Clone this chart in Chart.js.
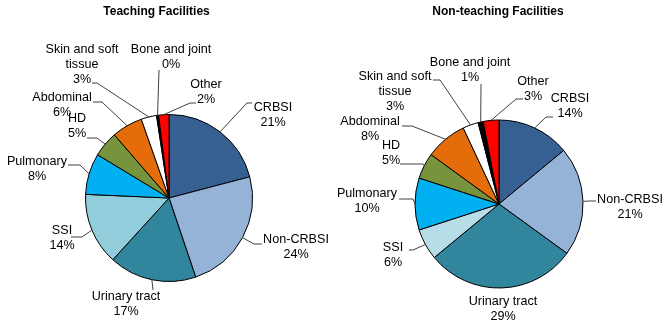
<!DOCTYPE html>
<html><head><meta charset="utf-8">
<script src="https://cdn.jsdelivr.net/npm/chart.js@4"></script>
<style>
html,body{margin:0;padding:0;background:#fff;width:666px;height:325px;overflow:hidden}
canvas{position:absolute;top:0}
#c1{left:0}
#c2{left:333px}
</style></head><body>
<canvas id="c1" width="333" height="325"></canvas>
<canvas id="c2" width="333" height="325"></canvas>
<script>
// ---- data ----
const categories = ['CRBSI','Non-CRBSI','Urinary tract','SSI','Pulmonary','HD','Abdominal','Skin and soft tissue','Bone and joint','Other'];
const categoryLines = [['CRBSI'],['Non-CRBSI'],['Urinary tract'],['SSI'],['Pulmonary'],['HD'],['Abdominal'],['Skin and soft','tissue'],['Bone and joint'],['Other']];
const teachingValues = [21,24,17,14,8,5,6,3,0.4,2];
const teachingPctLabels = ['21%','24%','17%','14%','8%','5%','6%','3%','0%','2%'];
const nonTeachingValues = [14,21,29,6,10,5,8,3,1,3];
const nonTeachingPctLabels = ['14%','21%','29%','6%','10%','5%','8%','3%','1%','3%'];
const chartTitles = ['Teaching Facilities','Non-teaching Facilities'];

// ---- styles / layout ----
const teachingColors = ['#376092','#95B3D7','#31859C','#92CDDC','#00B0F0','#77933C','#E46C0A','#FFFFFF','#000000','#FF0000'];
const nonTeachingColors = ['#376092','#95B3D7','#31859C','#B7DEE8','#00B0F0','#77933C','#E46C0A','#FFFFFF','#000000','#FF0000'];
const FONT = '"Liberation Sans", Arial, sans-serif';
const LINE_H = 15;
// label text [x, yFirstLine] and leader [startX,startY,elbowX,elbowY], relative to pie centre
const teachingLayout = [
  {t:[104,-90], l:[83,-95,78,-95]},
  {t:[127,42], l:[93,46,85,46]},
  {t:[-43,99], l:[-16,92,-16,92]},
  {t:[-107,33], l:[-98,39,-87,39]},
  {t:[-132,-36], l:[-101,-33,-89,-33]},
  {t:[-92,-79], l:[-82,-60,-72,-60]},
  {t:[-107,-100], l:[-76,-96,-67,-96]},
  {t:[-87,-148], l:[-77,-115,-72,-115]},
  {t:[2,-148], l:[-10,-128,-10,-128]},
  {t:[37,-113], l:[27,-95,21,-95]}
];
const nonTeachingLayout = [
  {t:[71,-105], l:[54,-87,47,-87]},
  {t:[131,-4], l:[97,-3,91,-3]},
  {t:[4,98], l:null},
  {t:[-106,44], l:[-90,46,-86,46]},
  {t:[-132,-10], l:[-100,-5,-86,-5]},
  {t:[-108,-58], l:[-99,-40,-76,-40]},
  {t:[-129,-82], l:[-97,-78,-87,-78]},
  {t:[-104,-127], l:[-66,-124,-59,-124]},
  {t:[-29,-141], l:[-18,-120,-18,-120]},
  {t:[34,-122], l:[24,-105,17,-105]}
];

const pieLabels = {
  id: 'pieLabels',
  afterDraw(chart, args, o) {
    const ctx = chart.ctx;
    const meta = chart.getDatasetMeta(0);
    const cx = meta.data[0].x, cy = meta.data[0].y;
    ctx.save();
    ctx.textAlign = 'center';
    ctx.textBaseline = 'middle';
    ctx.fillStyle = '#000';
    ctx.font = 'bold 12px ' + FONT;
    ctx.fillText(o.title, o.titlePos[0], o.titlePos[1]);
    ctx.font = '12.6px ' + FONT;
    ctx.strokeStyle = '#404040';
    ctx.lineWidth = 1;
    meta.data.forEach((arc, i) => {
      const lay = o.layout[i];
      const lines = o.lines[i].concat([o.pct[i]]);
      lines.forEach((s, k) => ctx.fillText(s, cx + lay.t[0], cy + lay.t[1] + k * LINE_H));
      if (lay.l) {
        const mid = (arc.startAngle + arc.endAngle) / 2;
        const px = arc.x + Math.cos(mid) * arc.outerRadius;
        const py = arc.y + Math.sin(mid) * arc.outerRadius;
        ctx.beginPath();
        ctx.moveTo(cx + lay.l[0], cy + lay.l[1]);
        ctx.lineTo(cx + lay.l[2], cy + lay.l[3]);
        ctx.lineTo(px, py);
        ctx.stroke();
      }
    });
    ctx.restore();
  }
};

function makePie(id, values, colors, radius, padding, title, titlePos, pct, layout) {
  return new Chart(document.getElementById(id), {
    type: 'pie',
    data: {
      labels: categories,
      datasets: [{
        data: values,
        backgroundColor: colors,
        borderColor: '#000',
        borderWidth: 1,
        radius: radius
      }]
    },
    options: {
      responsive: false,
      animation: false,
      devicePixelRatio: 1,
      layout: { padding: padding },
      plugins: {
        legend: { display: false },
        tooltip: { enabled: false },
        title: { display: false },
        pieLabels: { title: title, titlePos: titlePos, lines: categoryLines, pct: pct, layout: layout }
      }
    },
    plugins: [pieLabels]
  });
}

makePie('c1', teachingValues, teachingColors, 83.5,
  {left:85.5, right:80.5, top:114.5, bottom:43.5},
  chartTitles[0], [156.5, 12], teachingPctLabels, teachingLayout);
makePie('c2', nonTeachingValues, nonTeachingColors, 84,
  {left:82, right:83, top:120, bottom:37},
  chartTitles[1], [165, 12], nonTeachingPctLabels, nonTeachingLayout);
</script>
</body></html>
